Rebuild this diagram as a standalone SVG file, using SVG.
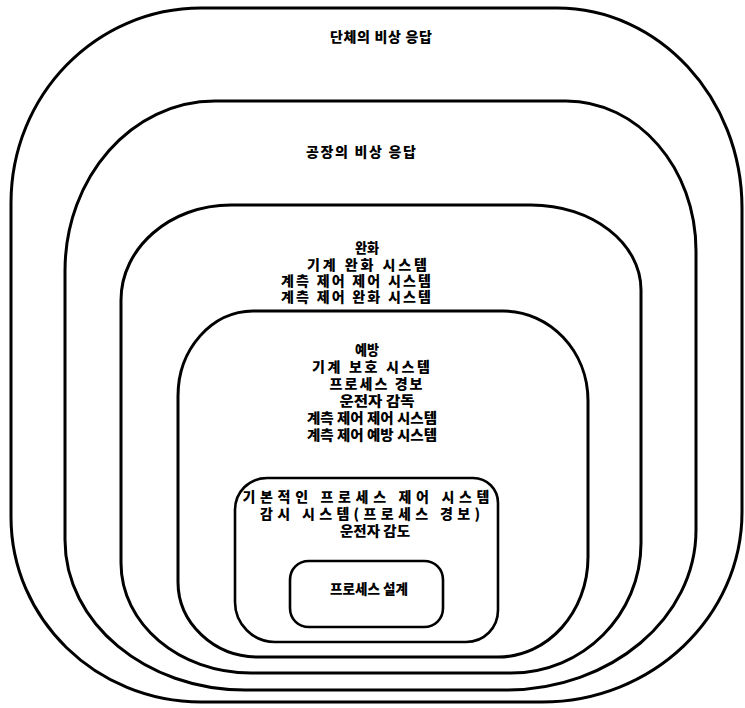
<svg xmlns="http://www.w3.org/2000/svg" width="745" height="708" viewBox="0 0 745 708">
<style>
.b{fill:none;stroke:#000;stroke-width:3;stroke-linejoin:round}
.bi{fill:none;stroke:#000;stroke-width:2.6;stroke-linejoin:round}
text{font-family:"Noto Sans CJK KR","Noto Sans",sans-serif;font-weight:900;font-size:14px;fill:#000;text-anchor:middle}
</style>
<rect width="745" height="708" fill="#fff"/>
<g id="n1">
<path class="b" d="M11,203 C11,95 96,8 201,8 L557,8 C659,8 742,98 742,208 L742,512 C742,617 652,702 542,702 L201,702 C96,702 11,619 11,517 Z"/>
<text x="381" y="42" textLength="102" lengthAdjust="spacing">단체의 비상 응답</text>
</g>
<g id="n2">
<path class="b" d="M65,271 C65,177 132,101 215,101 L566,101 C638,101 696,168 696,251 L696,530 C696,618 611,690 506,690 L245,690 C146,690 65,623 65,540 Z"/>
<text x="361" y="157" textLength="110" lengthAdjust="spacing">공장의 비상 응답</text>
</g>
<g id="n3">
<path class="b" d="M121,300 C121,248 170,205 231,205 L531,205 C592,205 641,243 641,290 L641,543 C641,615 583,673 511,673 L251,673 C179,673 121,624 121,563 Z"/>
<text x="367" y="253" textLength="24" lengthAdjust="spacingAndGlyphs">완화</text>
<text x="367" y="270" textLength="120" lengthAdjust="spacing">기계 완화 시스템</text>
<text x="356" y="286" textLength="150" lengthAdjust="spacing">계측 제어 제어 시스템</text>
<text x="356" y="302" textLength="150" lengthAdjust="spacing">계측 제어 완화 시스템</text>
</g>
<g id="n4">
<path class="b" d="M178,396 C178,349 212,311 253,311 L503,311 C550,311 588,351 588,401 L588,557 C588,612 548,657 498,657 L258,657 C214,657 178,623 178,582 Z"/>
<text x="367" y="355" textLength="24" lengthAdjust="spacingAndGlyphs">예방</text>
<text x="371" y="372" textLength="118" lengthAdjust="spacing">기계 보호 시스템</text>
<text x="376" y="389" textLength="93" lengthAdjust="spacing">프로세스 경보</text>
<text x="377" y="406" textLength="75" lengthAdjust="spacingAndGlyphs">운전자 감독</text>
<text x="372" y="423" textLength="130" lengthAdjust="spacingAndGlyphs">계측 제어 제어 시스템</text>
<text x="372" y="440" textLength="130" lengthAdjust="spacingAndGlyphs">계측 제어 예방 시스템</text>
</g>
<g id="n5">
<path class="bi" d="M235,510 C235,492 249,478 267,478 L473,478 C487,478 498,489 498,503 L498,610 C498,628 484,642 466,642 L275,642 C253,642 235,624 235,602 Z"/>
<text x="366" y="502" textLength="247" lengthAdjust="spacing">기본적인 프로세스 제어 시스템</text>
<text x="370" y="519" textLength="220" lengthAdjust="spacing">감시 시스템(프로세스 경보)</text>
<text x="375" y="536" textLength="70" lengthAdjust="spacingAndGlyphs">운전자 감도</text>
</g>
<g id="n6">
<path class="bi" d="M290,580 C290,569 298,561 309,561 L424,561 C435,561 443,569 443,580 L443,608 C443,619 435,627 424,627 L309,627 C298,627 290,619 290,608 Z"/>
<text x="369" y="594" textLength="78" lengthAdjust="spacingAndGlyphs">프로세스 설계</text>
</g>
</svg>
